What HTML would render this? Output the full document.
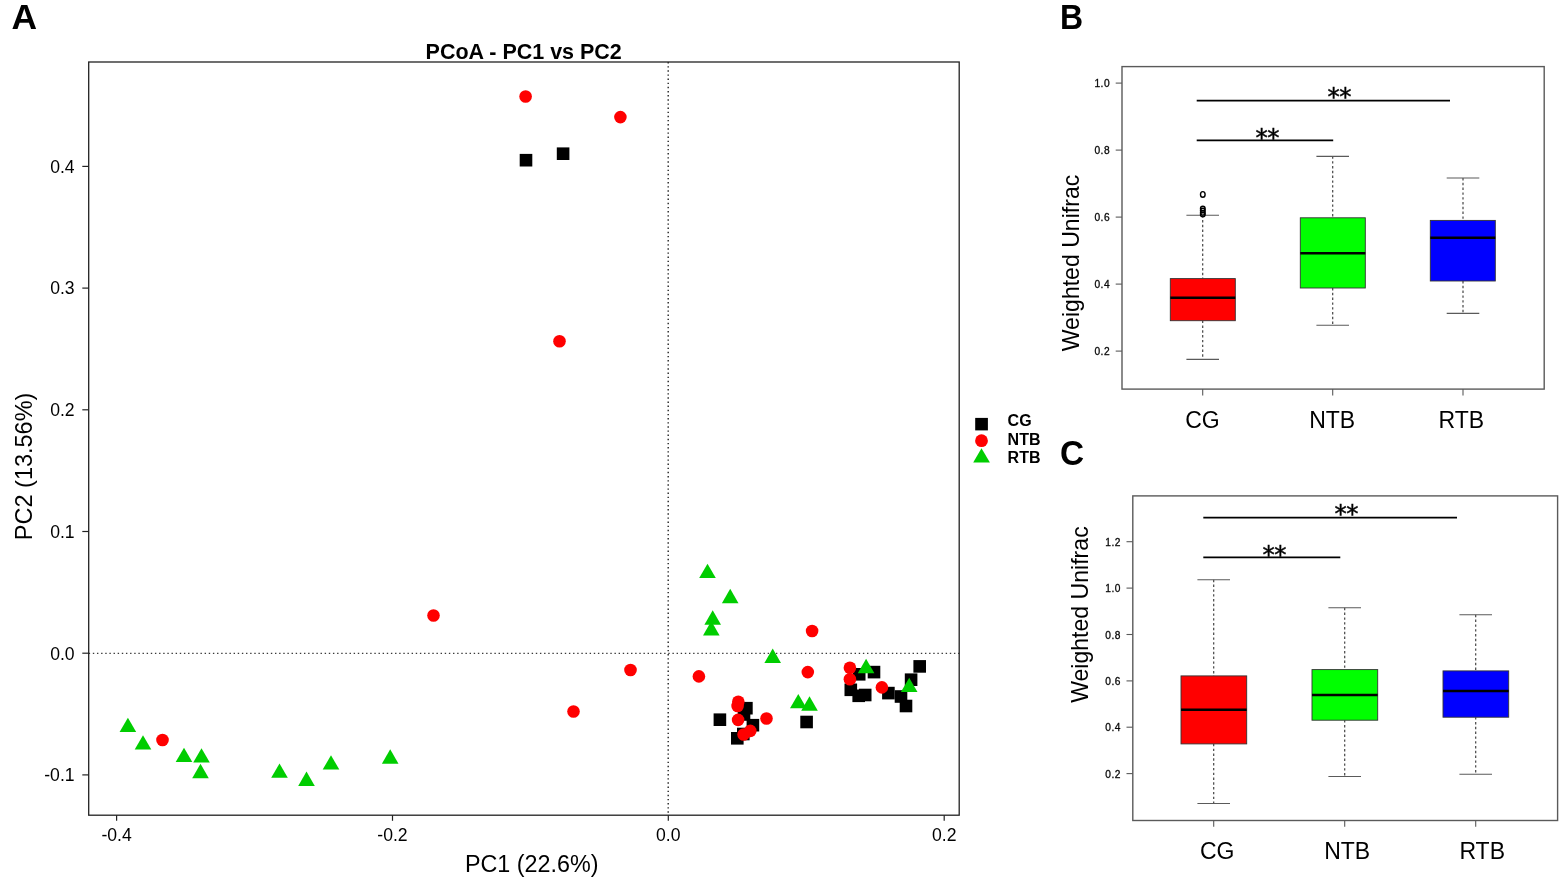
<!DOCTYPE html>
<html lang="en"><head><meta charset="utf-8"><title>PCoA and Weighted Unifrac</title>
<style>html,body{margin:0;padding:0;background:#fff;}body{width:1561px;height:879px;overflow:hidden;}svg{display:block;position:absolute;left:0;top:0;}text{font-family:"Liberation Sans", sans-serif;fill:#000;}</style></head><body>
<svg width="1561" height="879" viewBox="0 0 1561 879">
<rect x="0" y="0" width="1561" height="879" fill="#fff"/>
<text transform="translate(11.6,28.9) scale(1.03,1)" font-size="34.4" font-weight="bold">A</text>
<text transform="translate(1060.0,28.9) scale(0.93,1)" font-size="34.4" font-weight="bold">B</text>
<text transform="translate(1060.0,465.4) scale(0.97,1)" font-size="34.4" font-weight="bold">C</text>
<text transform="translate(523.7,58.9) scale(1,1.03)" font-size="21.5" font-weight="bold" text-anchor="middle">PCoA - PC1 vs PC2</text>
<line x1="668.2" y1="62.0" x2="668.2" y2="815.2" stroke="#222" stroke-width="1.4" stroke-dasharray="1.4 2.74"/>
<line x1="88.7" y1="653.4" x2="959.2" y2="653.4" stroke="#3a3a3a" stroke-width="1.4" stroke-dasharray="1.4 2.74"/>
<rect x="88.7" y="62.0" width="870.5" height="753.2" fill="none" stroke="#222" stroke-width="1.3"/>
<line x1="82.3" y1="166.4" x2="88.7" y2="166.4" stroke="#222" stroke-width="1.2"/>
<text x="74.6" y="172.70" font-size="17.6" text-anchor="end">0.4</text>
<line x1="82.3" y1="288.1" x2="88.7" y2="288.1" stroke="#222" stroke-width="1.2"/>
<text x="74.6" y="294.40" font-size="17.6" text-anchor="end">0.3</text>
<line x1="82.3" y1="409.8" x2="88.7" y2="409.8" stroke="#222" stroke-width="1.2"/>
<text x="74.6" y="416.1" font-size="17.6" text-anchor="end">0.2</text>
<line x1="82.3" y1="531.5" x2="88.7" y2="531.5" stroke="#222" stroke-width="1.2"/>
<text x="74.6" y="537.8" font-size="17.6" text-anchor="end">0.1</text>
<line x1="82.3" y1="653.2" x2="88.7" y2="653.2" stroke="#222" stroke-width="1.2"/>
<text x="74.6" y="659.5" font-size="17.6" text-anchor="end">0.0</text>
<line x1="82.3" y1="774.9" x2="88.7" y2="774.9" stroke="#222" stroke-width="1.2"/>
<text x="74.6" y="781.20" font-size="17.6" text-anchor="end">-0.1</text>
<line x1="116.6" y1="815.2" x2="116.6" y2="820.8" stroke="#222" stroke-width="1.2"/>
<text x="116.6" y="841.2" font-size="17.6" text-anchor="middle">-0.4</text>
<line x1="392.5" y1="815.2" x2="392.5" y2="820.8" stroke="#222" stroke-width="1.2"/>
<text x="392.5" y="841.2" font-size="17.6" text-anchor="middle">-0.2</text>
<line x1="668.3" y1="815.2" x2="668.3" y2="820.8" stroke="#222" stroke-width="1.2"/>
<text x="668.3" y="841.2" font-size="17.6" text-anchor="middle">0.0</text>
<line x1="944.2" y1="815.2" x2="944.2" y2="820.8" stroke="#222" stroke-width="1.2"/>
<text x="944.2" y="841.2" font-size="17.6" text-anchor="middle">0.2</text>
<text transform="translate(531.7,872) scale(1,1.05)" font-size="23.35" text-anchor="middle">PC1 (22.6%)</text>
<text transform="translate(32.3,466.4) rotate(-90) scale(1,1.05)" font-size="23.5" text-anchor="middle">PC2 (13.56%)</text>
<rect x="519.7" y="153.9" width="12.6" height="12.6" fill="#000"/>
<rect x="556.8" y="147.4" width="12.6" height="12.6" fill="#000"/>
<rect x="713.6" y="713.4" width="12.6" height="12.6" fill="#000"/>
<rect x="740.1" y="701.9" width="12.6" height="12.6" fill="#000"/>
<rect x="737.7" y="708.2" width="12.6" height="12.6" fill="#000"/>
<rect x="746.6" y="718.9" width="12.6" height="12.6" fill="#000"/>
<rect x="737.0" y="727.7" width="12.6" height="12.6" fill="#000"/>
<rect x="731.0" y="732.0" width="12.6" height="12.6" fill="#000"/>
<rect x="800.3" y="715.7" width="12.6" height="12.6" fill="#000"/>
<rect x="913.4" y="660.1" width="12.6" height="12.6" fill="#000"/>
<rect x="904.8" y="673.4" width="12.6" height="12.6" fill="#000"/>
<rect x="867.7" y="665.8" width="12.6" height="12.6" fill="#000"/>
<rect x="852.9" y="668.0" width="12.6" height="12.6" fill="#000"/>
<rect x="844.5" y="683.5" width="12.6" height="12.6" fill="#000"/>
<rect x="852.4" y="689.5" width="12.6" height="12.6" fill="#000"/>
<rect x="858.9" y="688.7" width="12.6" height="12.6" fill="#000"/>
<rect x="882.1" y="686.8" width="12.6" height="12.6" fill="#000"/>
<rect x="894.7" y="690.2" width="12.6" height="12.6" fill="#000"/>
<rect x="899.7" y="699.7" width="12.6" height="12.6" fill="#000"/>
<circle cx="525.6" cy="96.5" r="6.3" fill="#ff0000"/>
<circle cx="620.4" cy="117.1" r="6.3" fill="#ff0000"/>
<circle cx="559.5" cy="341.3" r="6.3" fill="#ff0000"/>
<circle cx="433.5" cy="615.5" r="6.3" fill="#ff0000"/>
<circle cx="630.5" cy="670.0" r="6.3" fill="#ff0000"/>
<circle cx="573.5" cy="711.5" r="6.3" fill="#ff0000"/>
<circle cx="162.5" cy="740.0" r="6.3" fill="#ff0000"/>
<circle cx="812.1" cy="631.0" r="6.3" fill="#ff0000"/>
<circle cx="698.9" cy="676.4" r="6.3" fill="#ff0000"/>
<circle cx="807.8" cy="672.1" r="6.3" fill="#ff0000"/>
<circle cx="849.9" cy="667.8" r="6.3" fill="#ff0000"/>
<circle cx="849.9" cy="679.3" r="6.3" fill="#ff0000"/>
<circle cx="881.9" cy="687.4" r="6.3" fill="#ff0000"/>
<circle cx="738.3" cy="701.7" r="6.3" fill="#ff0000"/>
<circle cx="737.6" cy="706.0" r="6.3" fill="#ff0000"/>
<circle cx="738.1" cy="719.9" r="6.3" fill="#ff0000"/>
<circle cx="766.5" cy="718.5" r="6.3" fill="#ff0000"/>
<circle cx="743.6" cy="734.5" r="6.3" fill="#ff0000"/>
<circle cx="750.3" cy="730.9" r="6.3" fill="#ff0000"/>
<polygon points="127.9,717.7 119.6,732.1 136.2,732.1" fill="#00cd00"/>
<polygon points="143.0,735.2 134.7,749.6 151.3,749.6" fill="#00cd00"/>
<polygon points="184.0,747.7 175.7,762.1 192.3,762.1" fill="#00cd00"/>
<polygon points="201.5,748.2 193.2,762.6 209.8,762.6" fill="#00cd00"/>
<polygon points="200.5,763.8 192.2,778.2 208.8,778.2" fill="#00cd00"/>
<polygon points="279.5,763.4 271.2,777.8 287.8,777.8" fill="#00cd00"/>
<polygon points="306.5,771.5 298.2,785.9 314.8,785.9" fill="#00cd00"/>
<polygon points="331.0,755.2 322.7,769.6 339.3,769.6" fill="#00cd00"/>
<polygon points="390.2,749.3 381.9,763.7 398.5,763.7" fill="#00cd00"/>
<polygon points="707.5,563.7 699.2,578.1 715.8,578.1" fill="#00cd00"/>
<polygon points="730.2,588.8 721.9,603.2 738.5,603.2" fill="#00cd00"/>
<polygon points="712.7,610.3 704.4,624.7 721.0,624.7" fill="#00cd00"/>
<polygon points="711.3,621.1 703.0,635.5 719.6,635.5" fill="#00cd00"/>
<polygon points="772.7,648.5 764.4,662.9 781.0,662.9" fill="#00cd00"/>
<polygon points="798.3,693.9 790.0,708.3 806.6,708.3" fill="#00cd00"/>
<polygon points="809.5,696.3 801.2,710.7 817.8,710.7" fill="#00cd00"/>
<polygon points="866.1,658.8 857.8,673.2 874.4,673.2" fill="#00cd00"/>
<polygon points="909.2,677.7 900.9,692.1 917.5,692.1" fill="#00cd00"/>
<rect x="975.2" y="417.9" width="12.7" height="12.5" fill="#000"/>
<circle cx="981.5" cy="440.7" r="6.4" fill="#ff0000"/>
<polygon points="981.5,448.2 973.2,462.6 989.9,462.6" fill="#00cd00"/>
<text x="1007.6" y="426.3" font-size="16" font-weight="bold">CG</text>
<text x="1007.6" y="444.7" font-size="16" font-weight="bold">NTB</text>
<text x="1007.6" y="463.1" font-size="16" font-weight="bold">RTB</text>
<rect x="1122.0" y="66.6" width="422.20" height="322.5" fill="none" stroke="#5a5a5a" stroke-width="1.4"/>
<line x1="1115.7" y1="83.1" x2="1122.0" y2="83.1" stroke="#5a5a5a" stroke-width="1.1"/>
<text x="1110.0" y="87.3" font-size="10.2" letter-spacing="0.45" text-anchor="end" fill="#111" stroke="#111" stroke-width="0.3">1.0</text>
<line x1="1115.7" y1="150.1" x2="1122.0" y2="150.1" stroke="#5a5a5a" stroke-width="1.1"/>
<text x="1110.0" y="154.30" font-size="10.2" letter-spacing="0.45" text-anchor="end" fill="#111" stroke="#111" stroke-width="0.3">0.8</text>
<line x1="1115.7" y1="217.1" x2="1122.0" y2="217.1" stroke="#5a5a5a" stroke-width="1.1"/>
<text x="1110.0" y="221.30" font-size="10.2" letter-spacing="0.45" text-anchor="end" fill="#111" stroke="#111" stroke-width="0.3">0.6</text>
<line x1="1115.7" y1="284.1" x2="1122.0" y2="284.1" stroke="#5a5a5a" stroke-width="1.1"/>
<text x="1110.0" y="288.3" font-size="10.2" letter-spacing="0.45" text-anchor="end" fill="#111" stroke="#111" stroke-width="0.3">0.4</text>
<line x1="1115.7" y1="351.1" x2="1122.0" y2="351.1" stroke="#5a5a5a" stroke-width="1.1"/>
<text x="1110.0" y="355.3" font-size="10.2" letter-spacing="0.45" text-anchor="end" fill="#111" stroke="#111" stroke-width="0.3">0.2</text>
<line x1="1202.7" y1="389.1" x2="1202.7" y2="395.40" stroke="#5a5a5a" stroke-width="1.1"/>
<line x1="1332.7" y1="389.1" x2="1332.7" y2="395.40" stroke="#5a5a5a" stroke-width="1.1"/>
<line x1="1463.0" y1="389.1" x2="1463.0" y2="395.40" stroke="#5a5a5a" stroke-width="1.1"/>
<text x="1202.5" y="428.3" font-size="23" text-anchor="middle">CG</text>
<text x="1332.2" y="428.3" font-size="23" text-anchor="middle">NTB</text>
<text x="1461.3" y="428.3" font-size="23" text-anchor="middle">RTB</text>
<text transform="translate(1078.9,263.0) rotate(-90) scale(0.95,1)" font-size="24.3" text-anchor="middle">Weighted Unifrac</text>
<line x1="1196.7" y1="100.60" x2="1450.0" y2="100.60" stroke="#000" stroke-width="1.8"/>
<text x="1339.15" y="105.4" font-size="24.5" text-anchor="middle" letter-spacing="-0.55" stroke="#000" stroke-width="0.45" style="font-family:'DejaVu Sans',sans-serif">**</text>
<line x1="1196.7" y1="140.40" x2="1333.2" y2="140.40" stroke="#000" stroke-width="1.8"/>
<text x="1267.3" y="145.8" font-size="24.5" text-anchor="middle" letter-spacing="-0.55" stroke="#000" stroke-width="0.45" style="font-family:'DejaVu Sans',sans-serif">**</text>
<line x1="1202.7" y1="215.2" x2="1202.7" y2="278.6" stroke="#444" stroke-width="1.2" stroke-dasharray="2.4 2.4"/>
<line x1="1202.7" y1="320.7" x2="1202.7" y2="359.4" stroke="#444" stroke-width="1.2" stroke-dasharray="2.4 2.4"/>
<line x1="1186.4" y1="215.2" x2="1219.0" y2="215.2" stroke="#5a5a5a" stroke-width="1.1"/>
<line x1="1186.4" y1="359.4" x2="1219.0" y2="359.4" stroke="#5a5a5a" stroke-width="1.1"/>
<rect x="1170.3" y="278.6" width="65.0" height="42.10" fill="#ff0000" stroke="#333" stroke-width="0.9"/>
<line x1="1170.3" y1="297.7" x2="1235.3" y2="297.7" stroke="#000" stroke-width="2.5"/>
<line x1="1332.7" y1="156.4" x2="1332.7" y2="217.8" stroke="#444" stroke-width="1.2" stroke-dasharray="2.4 2.4"/>
<line x1="1332.7" y1="288.0" x2="1332.7" y2="325.3" stroke="#444" stroke-width="1.2" stroke-dasharray="2.4 2.4"/>
<line x1="1316.4" y1="156.4" x2="1349.0" y2="156.4" stroke="#5a5a5a" stroke-width="1.1"/>
<line x1="1316.4" y1="325.3" x2="1349.0" y2="325.3" stroke="#5a5a5a" stroke-width="1.1"/>
<rect x="1300.3" y="217.8" width="65.0" height="70.20" fill="#00ff00" stroke="#333" stroke-width="0.9"/>
<line x1="1300.3" y1="253.3" x2="1365.3" y2="253.3" stroke="#000" stroke-width="2.5"/>
<line x1="1463.0" y1="178.0" x2="1463.0" y2="220.4" stroke="#444" stroke-width="1.2" stroke-dasharray="2.4 2.4"/>
<line x1="1463.0" y1="281.0" x2="1463.0" y2="313.4" stroke="#444" stroke-width="1.2" stroke-dasharray="2.4 2.4"/>
<line x1="1446.7" y1="178.0" x2="1479.3" y2="178.0" stroke="#5a5a5a" stroke-width="1.1"/>
<line x1="1446.7" y1="313.4" x2="1479.3" y2="313.4" stroke="#5a5a5a" stroke-width="1.1"/>
<rect x="1430.3" y="220.4" width="65.0" height="60.60" fill="#0000ff" stroke="#333" stroke-width="0.9"/>
<line x1="1430.3" y1="237.8" x2="1495.3" y2="237.8" stroke="#000" stroke-width="2.5"/>
<ellipse cx="1202.8" cy="194.4" rx="2.3" ry="2.8" fill="none" stroke="#000" stroke-width="1.4"/>
<ellipse cx="1202.8" cy="208.6" rx="2.3" ry="2.3" fill="none" stroke="#000" stroke-width="1.4"/>
<ellipse cx="1202.8" cy="210.6" rx="2.3" ry="2.3" fill="none" stroke="#000" stroke-width="1.4"/>
<ellipse cx="1202.8" cy="212.8" rx="2.3" ry="2.3" fill="none" stroke="#000" stroke-width="1.4"/>
<ellipse cx="1202.8" cy="214.6" rx="2.3" ry="2.3" fill="none" stroke="#000" stroke-width="1.4"/>
<rect x="1132.8" y="495.9" width="424.80" height="324.6" fill="none" stroke="#5a5a5a" stroke-width="1.4"/>
<line x1="1126.5" y1="541.7" x2="1132.8" y2="541.7" stroke="#5a5a5a" stroke-width="1.1"/>
<text x="1120.8" y="545.90" font-size="10.2" letter-spacing="0.45" text-anchor="end" fill="#111" stroke="#111" stroke-width="0.3">1.2</text>
<line x1="1126.5" y1="588.1" x2="1132.8" y2="588.1" stroke="#5a5a5a" stroke-width="1.1"/>
<text x="1120.8" y="592.30" font-size="10.2" letter-spacing="0.45" text-anchor="end" fill="#111" stroke="#111" stroke-width="0.3">1.0</text>
<line x1="1126.5" y1="634.5" x2="1132.8" y2="634.5" stroke="#5a5a5a" stroke-width="1.1"/>
<text x="1120.8" y="638.7" font-size="10.2" letter-spacing="0.45" text-anchor="end" fill="#111" stroke="#111" stroke-width="0.3">0.8</text>
<line x1="1126.5" y1="680.9" x2="1132.8" y2="680.9" stroke="#5a5a5a" stroke-width="1.1"/>
<text x="1120.8" y="685.1" font-size="10.2" letter-spacing="0.45" text-anchor="end" fill="#111" stroke="#111" stroke-width="0.3">0.6</text>
<line x1="1126.5" y1="727.2" x2="1132.8" y2="727.2" stroke="#5a5a5a" stroke-width="1.1"/>
<text x="1120.8" y="731.40" font-size="10.2" letter-spacing="0.45" text-anchor="end" fill="#111" stroke="#111" stroke-width="0.3">0.4</text>
<line x1="1126.5" y1="773.6" x2="1132.8" y2="773.6" stroke="#5a5a5a" stroke-width="1.1"/>
<text x="1120.8" y="777.80" font-size="10.2" letter-spacing="0.45" text-anchor="end" fill="#111" stroke="#111" stroke-width="0.3">0.2</text>
<line x1="1213.7" y1="820.5" x2="1213.7" y2="826.8" stroke="#5a5a5a" stroke-width="1.1"/>
<line x1="1344.7" y1="820.5" x2="1344.7" y2="826.8" stroke="#5a5a5a" stroke-width="1.1"/>
<line x1="1475.7" y1="820.5" x2="1475.7" y2="826.8" stroke="#5a5a5a" stroke-width="1.1"/>
<text x="1217.2" y="859.4" font-size="23" text-anchor="middle">CG</text>
<text x="1347.2" y="859.4" font-size="23" text-anchor="middle">NTB</text>
<text x="1482.2" y="859.4" font-size="23" text-anchor="middle">RTB</text>
<text transform="translate(1087.8,614.6) rotate(-90) scale(0.95,1)" font-size="24.3" text-anchor="middle">Weighted Unifrac</text>
<line x1="1203.3" y1="517.6" x2="1457.0" y2="517.6" stroke="#000" stroke-width="1.8"/>
<text x="1346.2" y="522.35" font-size="24.5" text-anchor="middle" letter-spacing="-0.55" stroke="#000" stroke-width="0.45" style="font-family:'DejaVu Sans',sans-serif">**</text>
<line x1="1203.3" y1="557.40" x2="1340.3" y2="557.40" stroke="#000" stroke-width="1.8"/>
<text x="1274.2" y="562.85" font-size="24.5" text-anchor="middle" letter-spacing="-0.55" stroke="#000" stroke-width="0.45" style="font-family:'DejaVu Sans',sans-serif">**</text>
<line x1="1213.7" y1="579.8" x2="1213.7" y2="675.9" stroke="#444" stroke-width="1.2" stroke-dasharray="2.4 2.4"/>
<line x1="1213.7" y1="743.9" x2="1213.7" y2="803.5" stroke="#444" stroke-width="1.2" stroke-dasharray="2.4 2.4"/>
<line x1="1197.4" y1="579.8" x2="1230.0" y2="579.8" stroke="#5a5a5a" stroke-width="1.1"/>
<line x1="1197.4" y1="803.5" x2="1230.0" y2="803.5" stroke="#5a5a5a" stroke-width="1.1"/>
<rect x="1181.0" y="675.9" width="65.70" height="68.0" fill="#ff0000" stroke="#333" stroke-width="0.9"/>
<line x1="1181.0" y1="709.7" x2="1246.7" y2="709.7" stroke="#000" stroke-width="2.5"/>
<line x1="1344.7" y1="607.8" x2="1344.7" y2="669.6" stroke="#444" stroke-width="1.2" stroke-dasharray="2.4 2.4"/>
<line x1="1344.7" y1="720.2" x2="1344.7" y2="776.5" stroke="#444" stroke-width="1.2" stroke-dasharray="2.4 2.4"/>
<line x1="1328.4" y1="607.8" x2="1361.0" y2="607.8" stroke="#5a5a5a" stroke-width="1.1"/>
<line x1="1328.4" y1="776.5" x2="1361.0" y2="776.5" stroke="#5a5a5a" stroke-width="1.1"/>
<rect x="1312.0" y="669.6" width="65.70" height="50.60" fill="#00ff00" stroke="#333" stroke-width="0.9"/>
<line x1="1312.0" y1="695.1" x2="1377.7" y2="695.1" stroke="#000" stroke-width="2.5"/>
<line x1="1475.7" y1="614.8" x2="1475.7" y2="670.9" stroke="#444" stroke-width="1.2" stroke-dasharray="2.4 2.4"/>
<line x1="1475.7" y1="717.2" x2="1475.7" y2="774.2" stroke="#444" stroke-width="1.2" stroke-dasharray="2.4 2.4"/>
<line x1="1459.4" y1="614.8" x2="1492.0" y2="614.8" stroke="#5a5a5a" stroke-width="1.1"/>
<line x1="1459.4" y1="774.2" x2="1492.0" y2="774.2" stroke="#5a5a5a" stroke-width="1.1"/>
<rect x="1443.0" y="670.9" width="65.70" height="46.30" fill="#0000ff" stroke="#333" stroke-width="0.9"/>
<line x1="1443.0" y1="691.0" x2="1508.7" y2="691.0" stroke="#000" stroke-width="2.5"/>
</svg></body></html>
